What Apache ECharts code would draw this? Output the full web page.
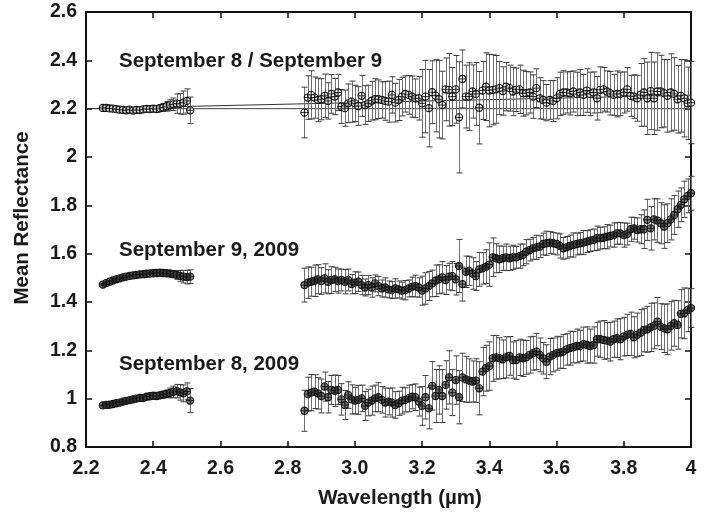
<!DOCTYPE html>
<html><head><meta charset="utf-8">
<script src="https://cdn.jsdelivr.net/npm/echarts@6/dist/echarts.min.js"></script>
<style>html,body{margin:0;padding:0;background:#fff}#c{width:712px;height:515px}</style>
</head><body><div id="c"></div><script>
// wavelengths (µm)
const wl1 = [2.25,2.26,2.27,2.28,2.29,2.30,2.31,2.32,2.33,2.34,2.35,2.36,2.37,2.38,2.39,2.40,2.41,2.42,2.43,2.44,2.45,2.46,2.47,2.48,2.49,2.50,2.51];
const wl2 = [2.85,2.86,2.87,2.88,2.89,2.90,2.91,2.92,2.93,2.94,2.95,2.96,2.97,2.98,2.99,3.00,3.01,3.02,3.03,3.04,3.05,3.06,3.07,3.08,3.09,3.10,3.11,3.12,3.13,3.14,3.15,3.16,3.17,3.18,3.19,3.20,3.21,3.22,3.23,3.24,3.25,3.26,3.27,3.28,3.29,3.30,3.31,3.32,3.33,3.34,3.35,3.36,3.37,3.38,3.39,3.40,3.41,3.42,3.43,3.44,3.45,3.46,3.47,3.48,3.49,3.50,3.51,3.52,3.53,3.54,3.55,3.56,3.57,3.58,3.59,3.60,3.61,3.62,3.63,3.64,3.65,3.66,3.67,3.68,3.69,3.70,3.71,3.72,3.73,3.74,3.75,3.76,3.77,3.78,3.79,3.80,3.81,3.82,3.83,3.84,3.85,3.86,3.87,3.88,3.89,3.90,3.91,3.92,3.93,3.94,3.95,3.96,3.97,3.98,3.99,4.00];

// September 8 / September 9 ratio
const ratio1 = [2.203,2.203,2.201,2.200,2.198,2.196,2.195,2.193,2.196,2.192,2.195,2.194,2.197,2.199,2.198,2.200,2.198,2.202,2.205,2.210,2.215,2.218,2.221,2.220,2.225,2.232,2.193];
const ratioErr1 = [0.006,0.006,0.006,0.007,0.007,0.008,0.008,0.008,0.009,0.009,0.010,0.010,0.011,0.011,0.012,0.013,0.013,0.014,0.016,0.020,0.022,0.026,0.040,0.042,0.048,0.050,0.055];
const ratio2 = [2.184,2.246,2.257,2.246,2.236,2.239,2.253,2.232,2.261,2.250,
2.267,2.209,2.202,2.222,2.229,2.222,2.211,2.253,2.215,2.222,
2.233,2.239,2.239,2.236,2.232,2.229,2.257,2.225,2.236,2.250,
2.261,2.257,2.250,2.243,2.243,2.222,2.250,2.202,2.268,2.254,
2.239,2.215,2.280,2.278,2.250,2.280,2.164,2.323,2.250,2.250,
2.271,2.261,2.204,2.275,2.291,
2.275,2.278,2.280,2.285,2.273,2.291,2.285,2.271,2.278,2.280,
2.264,2.264,2.267,2.250,2.285,2.243,2.236,2.225,2.236,2.232,
2.243,2.261,2.267,2.267,2.264,2.271,2.261,2.267,2.257,2.275,
2.261,2.267,2.243,2.278,2.280,2.271,2.264,2.257,2.261,2.261,
2.267,2.280,2.253,2.250,2.243,2.257,2.267,2.243,2.273,2.243,
2.271,2.271,2.264,2.253,2.267,2.261,2.239,2.253,2.243,2.222,2.225];
const ratioErr2 = [0.105,0.090,0.100,0.085,0.090,0.085,0.090,0.075,0.080,0.075,
0.075,0.070,0.075,0.080,0.085,0.075,0.080,0.085,0.080,0.075,
0.080,0.085,0.080,0.075,0.080,0.085,0.075,0.080,0.085,0.080,
0.075,0.080,0.085,0.080,0.090,0.140,0.150,0.160,0.130,0.150,
0.160,0.140,0.130,0.150,0.120,0.140,0.230,0.120,0.130,0.140,
0.110,0.130,0.150,0.120,0.140,
0.150,0.145,0.140,0.110,0.100,0.100,0.095,0.100,0.090,0.100,
0.095,0.090,0.085,0.090,0.080,0.085,0.080,0.075,0.080,0.085,
0.085,0.090,0.090,0.085,0.090,0.085,0.090,0.095,0.085,0.090,
0.090,0.085,0.090,0.095,0.090,0.085,0.090,0.085,0.095,0.090,
0.085,0.090,0.085,0.090,0.095,0.130,0.140,0.150,0.160,0.150,
0.160,0.150,0.140,0.150,0.160,0.150,0.140,0.150,0.160,0.150,0.170];

// September 9, 2009
const sep9_1 = [1.472,1.478,1.484,1.489,1.494,1.498,1.502,1.505,1.508,1.510,1.512,1.514,1.515,1.517,1.518,1.519,1.520,1.521,1.520,1.519,1.518,1.515,1.512,1.508,1.505,1.503,1.505];
const sep9Err1 = [0.004,0.004,0.004,0.004,0.004,0.004,0.004,0.004,0.004,0.004,0.004,0.004,0.004,0.004,0.004,0.004,0.004,0.004,0.005,0.006,0.008,0.012,0.018,0.022,0.026,0.028,0.028];
const sep9_2 = [1.470,1.480,1.484,1.488,1.494,1.487,1.498,1.484,1.491,1.494,
1.487,1.491,1.484,1.491,1.474,1.480,1.484,1.470,1.460,1.470,
1.460,1.477,1.466,1.456,1.460,1.452,1.449,1.456,1.452,1.447,
1.449,1.456,1.463,1.466,1.460,1.447,1.456,1.466,1.477,1.488,
1.494,1.502,1.491,1.505,1.507,1.494,1.549,1.474,1.525,1.529,
1.518,1.507,1.535,1.539,1.546,
1.555,1.585,1.581,1.577,1.581,1.585,1.581,1.585,1.585,1.590,
1.595,1.608,1.615,1.622,1.626,1.629,1.640,1.643,1.646,1.643,
1.640,1.632,1.622,1.626,1.632,1.636,1.640,1.643,1.646,1.650,
1.654,1.657,1.664,1.664,1.666,1.670,1.673,1.677,1.684,1.684,
1.677,1.681,1.701,1.705,1.698,1.701,1.701,1.740,1.705,1.742,
1.737,1.726,1.712,1.726,1.742,1.760,1.784,1.802,1.825,1.839,1.850];
const sep9Err2 = [0.070,0.065,0.060,0.065,0.060,0.055,0.060,0.050,0.055,0.050,
0.050,0.045,0.050,0.045,0.040,0.045,0.040,0.040,0.035,0.040,
0.040,0.035,0.040,0.035,0.040,0.035,0.035,0.040,0.035,0.035,
0.040,0.035,0.040,0.045,0.040,0.060,0.065,0.060,0.055,0.065,
0.060,0.065,0.060,0.055,0.060,0.065,0.110,0.070,0.065,0.060,
0.065,0.060,0.070,0.065,0.070,
0.090,0.080,0.060,0.055,0.050,0.055,0.050,0.050,0.045,0.050,
0.045,0.050,0.045,0.045,0.050,0.045,0.045,0.050,0.045,0.045,
0.045,0.050,0.045,0.045,0.045,0.050,0.045,0.045,0.050,0.045,
0.045,0.045,0.050,0.045,0.045,0.050,0.045,0.050,0.045,0.045,
0.050,0.045,0.050,0.045,0.050,0.060,0.080,0.085,0.090,0.085,
0.090,0.085,0.090,0.080,0.085,0.080,0.075,0.070,0.075,0.070,0.070];

// September 8, 2009
const sep8_1 = [0.972,0.974,0.975,0.978,0.981,0.984,0.988,0.991,0.994,0.997,1.000,1.003,1.002,1.008,1.010,1.012,1.011,1.014,1.017,1.020,1.024,1.028,1.031,1.026,1.022,1.030,0.992];
const sep8Err1 = [0.005,0.005,0.005,0.006,0.006,0.006,0.007,0.007,0.007,0.008,0.008,0.009,0.009,0.010,0.010,0.011,0.012,0.013,0.014,0.016,0.020,0.024,0.028,0.032,0.035,0.035,0.050];
const sep8_2 = [0.950,1.019,1.025,1.029,1.022,1.011,1.050,1.006,1.036,1.033,
1.036,0.997,0.974,1.015,0.997,0.992,0.995,1.001,0.970,0.984,
0.992,1.001,1.006,0.995,0.984,0.988,0.984,0.974,0.981,0.992,
0.995,1.001,1.008,1.006,0.988,0.970,1.006,0.960,1.053,1.011,
1.036,1.011,1.057,1.088,1.025,1.077,1.006,1.088,1.080,1.075,
1.071,1.075,1.043,1.112,1.126,
1.135,1.167,1.171,1.167,1.163,1.171,1.177,1.160,1.160,1.171,
1.167,1.171,1.181,1.188,1.195,1.181,1.167,1.153,1.174,1.181,
1.188,1.191,1.195,1.204,1.209,1.213,1.218,1.218,1.226,1.222,
1.218,1.222,1.246,1.246,1.243,1.240,1.236,1.246,1.250,1.246,
1.257,1.264,1.268,1.254,1.264,1.273,1.284,1.287,1.295,1.301,
1.319,1.298,1.291,1.287,1.301,1.312,1.305,1.351,1.353,1.367,1.375];
const sep8Err2 = [0.085,0.070,0.075,0.070,0.065,0.070,0.060,0.065,0.060,0.065,
0.060,0.065,0.060,0.055,0.060,0.055,0.060,0.055,0.060,0.055,
0.060,0.055,0.060,0.055,0.060,0.055,0.060,0.055,0.050,0.055,
0.050,0.055,0.050,0.055,0.060,0.080,0.090,0.085,0.100,0.110,
0.100,0.110,0.100,0.110,0.095,0.100,0.110,0.100,0.095,0.090,
0.085,0.090,0.110,0.100,0.095,
0.100,0.095,0.090,0.085,0.080,0.085,0.080,0.075,0.080,0.075,
0.075,0.070,0.075,0.070,0.075,0.070,0.065,0.070,0.075,0.070,
0.070,0.065,0.070,0.065,0.070,0.065,0.070,0.065,0.070,0.075,
0.070,0.075,0.070,0.075,0.080,0.075,0.080,0.075,0.080,0.085,
0.080,0.085,0.090,0.085,0.090,0.095,0.090,0.095,0.100,0.095,
0.100,0.095,0.100,0.105,0.100,0.095,0.100,0.100,0.105,0.090,0.080];

// reference lines in the ratio panel
const refFlat = [[2.2, 2.2], [4.0, 2.2]];
const refFit  = [[2.2, 2.2], [4.0, 2.256]];

// tick labels
const xTicks = ['2.2','2.4','2.6','2.8','3.0','3.2','3.4','3.6','3.8','4'];
const yTicks = ['0.8','1','1.2','1.4','1.6','1.8','2','2.2','2.4','2.6'];

// texts
const xTitle = 'Wavelength (\u00b5m)';
const yTitle = 'Mean Reflectance';
const labels = [
  {text: 'September 8 / September 9', x: 119, y: 61},
  {text: 'September 9, 2009', x: 119, y: 250},
  {text: 'September 8, 2009', x: 119, y: 364}
];

const FONT = '"Liberation Sans", Arial, Helvetica, sans-serif';

function build(w1, v1, e1, w2, v2, e2) {
  const out = [];
  w1.forEach((x, i) => out.push([x, v1[i], e1[i]]));
  w2.forEach((x, i) => out.push([x, v2[i], e2[i]]));
  return out;
}
const dRatio = build(wl1, ratio1, ratioErr1, wl2, ratio2, ratioErr2);
const dSep9 = build(wl1, sep9_1, sep9Err1, wl2, sep9_2, sep9Err2);
const dSep8 = build(wl1, sep8_1, sep8Err1, wl2, sep8_2, sep8Err2);

function barRender(params, api) {
  const x = api.value(0), y = api.value(1), e = api.value(2);
  const hi = api.coord([x, y + e]), lo = api.coord([x, y - e]);
  const cx = Math.round(hi[0]) + 0.5, c = 3;
  return {type: 'group', children: [
    {type: 'line', shape: {x1: cx, y1: hi[1], x2: cx, y2: lo[1]}, style: {stroke: '#707070', lineWidth: 1}},
    {type: 'line', shape: {x1: cx - c, y1: hi[1], x2: cx + c, y2: hi[1]}, style: {stroke: '#3a3a3a', lineWidth: 1}},
    {type: 'line', shape: {x1: cx - c, y1: lo[1], x2: cx + c, y2: lo[1]}, style: {stroke: '#3a3a3a', lineWidth: 1}}
  ]};
}
function markRender(fill, stroke) {
  return function (params, api) {
    const p = api.coord([api.value(0), api.value(1)]);
    const r = 3.6;
    return {type: 'group', children: [
      {type: 'circle', shape: {cx: p[0], cy: p[1], r: r}, style: {fill: fill, stroke: stroke, lineWidth: 1.1}},
      {type: 'line', shape: {x1: p[0] - r, y1: p[1], x2: p[0] + r, y2: p[1]}, style: {stroke: stroke, lineWidth: 0.9}},
      {type: 'line', shape: {x1: p[0], y1: p[1] - r, x2: p[0], y2: p[1] + r}, style: {stroke: stroke, lineWidth: 0.9}}
    ]};
  };
}

const axisLine = {show: true, lineStyle: {color: '#111', width: 2}};
const axisTick = {show: true, inside: true, length: 6, lineStyle: {color: '#111', width: 1.5}};
const labelStyle = {fontFamily: FONT, fontWeight: 'bold', fontSize: 19.5, color: '#1a1a1a'};

const chart = echarts.init(document.getElementById('c'));
chart.setOption({
  animation: false,
  backgroundColor: '#fff',
  grid: {left: 86, right: 21, top: 12, bottom: 68},
  xAxis: [
    {type: 'value', position: 'bottom', min: 2.2, max: 4.0, interval: 0.2,
     axisLine, axisTick, splitLine: {show: false},
     axisLabel: Object.assign({margin: 12, formatter: (v) => xTicks[Math.round((v - 2.2) / 0.2)]}, labelStyle)},
    {type: 'value', position: 'top', min: 2.2, max: 4.0, interval: 0.2,
     axisLine, axisTick, splitLine: {show: false}, axisLabel: {show: false}}
  ],
  yAxis: [
    {type: 'value', position: 'left', min: 0.8, max: 2.6, interval: 0.2,
     axisLine, axisTick, splitLine: {show: false},
     axisLabel: Object.assign({margin: 9, formatter: (v) => yTicks[Math.round((v - 0.8) / 0.2)]}, labelStyle)},
    {type: 'value', position: 'right', min: 0.8, max: 2.6, interval: 0.2,
     axisLine, axisTick, splitLine: {show: false}, axisLabel: {show: false}}
  ],
  graphic: labels.map(l => ({type: 'text', x: l.x, y: l.y, z: 100,
    style: {text: l.text, font: 'bold 20.5px ' + FONT, fill: '#1a1a1a', verticalAlign: 'middle'}}))
    .concat([
      {type: 'text', x: 400, y: 498, z: 100,
       style: {text: xTitle, font: 'bold 20.5px ' + FONT, fill: '#1a1a1a', align: 'center', verticalAlign: 'middle'}},
      {type: 'text', x: 22.5, y: 218, rotation: Math.PI / 2, z: 100,
       style: {text: yTitle, font: 'bold 20.5px ' + FONT, fill: '#1a1a1a', align: 'center', verticalAlign: 'middle'}}
    ]),
  series: [
    {type: 'line', data: refFlat, symbol: 'none', lineStyle: {color: '#444', width: 1}, z: 1},
    {type: 'line', data: refFit, symbol: 'none', lineStyle: {color: '#333', width: 1}, z: 1},
    {type: 'custom', data: dRatio, renderItem: barRender, z: 2},
    {type: 'custom', data: dSep9, renderItem: barRender, z: 2},
    {type: 'custom', data: dSep8, renderItem: barRender, z: 2},
    {type: 'custom', data: dRatio, renderItem: markRender('rgba(255,255,255,0.5)', '#111'), z: 3},
    {type: 'custom', data: dSep9, renderItem: markRender('rgba(50,50,50,0.6)', '#151515'), z: 3},
    {type: 'custom', data: dSep8, renderItem: markRender('rgba(50,50,50,0.6)', '#151515'), z: 3}
  ]
});
</script></body></html>
